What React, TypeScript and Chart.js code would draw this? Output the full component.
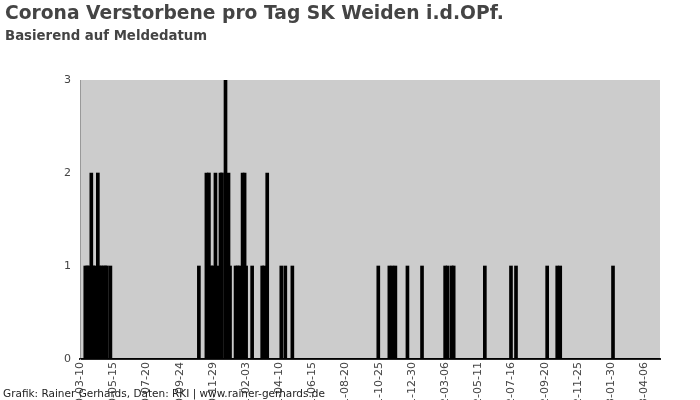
import React, { useEffect, useRef } from 'react';
import { Chart, registerables } from 'chart.js';

Chart.register(...registerables);

const titleText = 'Corona Verstorbene pro Tag SK Weiden i.d.OPf.';
const subtitleText = 'Basierend auf Meldedatum';
const footerText = 'Grafik: Rainer Gerhards, Daten: RKI | www.rainer-gerhards.de';

const startDate = '2020-03-10';
const endDate = '2023-05-07';
const labelStepDays = 66;
const yTicks = [0, 1, 2, 3];

const deathDates = [
  '2020-03-20', '2020-03-24', '2020-03-27', '2020-04-01', '2020-04-05', '2020-04-08',
  '2020-04-14', '2020-04-17', '2020-04-21', '2020-04-25', '2020-04-29', '2020-05-02',
  '2020-05-09',
  '2020-11-01', '2020-11-16', '2020-11-21', '2020-11-26', '2020-11-29', '2020-12-04',
  '2020-12-09', '2020-12-14', '2020-12-17', '2020-12-24', '2020-12-30', '2021-01-02',
  '2021-01-13', '2021-01-17', '2021-01-21', '2021-01-27', '2021-01-31', '2021-02-03',
  '2021-02-15', '2021-03-07', '2021-03-11', '2021-03-17', '2021-04-14', '2021-04-22',
  '2021-05-06',
  '2021-10-24', '2021-11-15', '2021-11-21', '2021-11-27', '2021-12-21', '2022-01-19',
  '2022-03-06', '2022-03-11', '2022-03-19', '2022-03-23', '2022-05-24', '2022-07-15',
  '2022-07-25', '2022-09-25', '2022-10-15', '2022-10-21', '2023-02-03',
];
const deathCounts = [
  1, 1, 1, 2, 1, 1,
  2, 1, 1, 1, 1, 1,
  1,
  1, 2, 2, 1, 1, 2,
  1, 2, 2, 3, 2, 1,
  1, 1, 1, 2, 2, 1,
  1, 1, 1, 2, 1, 1,
  1,
  1, 1, 1, 1, 1, 1,
  1, 1, 1, 1, 1, 1,
  1, 1, 1, 1, 1,
];

function buildDays(): string[] {
  const out: string[] = [];
  const d = new Date(startDate + 'T00:00:00Z');
  const end = new Date(endDate + 'T00:00:00Z');
  while (d.getTime() <= end.getTime()) {
    out.push(d.toISOString().slice(0, 10));
    d.setUTCDate(d.getUTCDate() + 1);
  }
  return out;
}

export default function App() {
  const ref = useRef<HTMLCanvasElement | null>(null);

  useEffect(() => {
    document.body.style.margin = '0';
    const canvas = ref.current;
    if (!canvas) return;
    const labels = buildDays();
    const lookup = new Map<string, number>();
    deathDates.forEach((dt, i) => lookup.set(dt, deathCounts[i]));
    const values = labels.map((l) => lookup.get(l) ?? 0);

    const decor = {
      id: 'decor',
      beforeDraw(chart: any) {
        const { ctx, chartArea } = chart;
        ctx.save();
        ctx.fillStyle = '#ffffff';
        ctx.fillRect(0, 0, chart.width, chart.height);
        ctx.fillStyle = '#cccccc';
        ctx.fillRect(chartArea.left, chartArea.top, chartArea.right - chartArea.left, chartArea.bottom - chartArea.top);
        ctx.restore();
      },
      afterDraw(chart: any) {
        const { ctx } = chart;
        ctx.save();
        ctx.textBaseline = 'alphabetic';
        ctx.textAlign = 'left';
        ctx.fillStyle = '#444444';
        ctx.font = 'bold 18.7px "DejaVu Sans"';
        ctx.fillText(titleText, 5, 19);
        ctx.font = 'bold 13.3px "DejaVu Sans"';
        ctx.fillText(subtitleText, 5, 40);
        ctx.fillStyle = '#222222';
        ctx.font = '10.5px "DejaVu Sans"';
        ctx.fillText(footerText, 3, 397);
        ctx.restore();
      },
    };

    const chart = new Chart(canvas, {
      type: 'bar',
      data: {
        labels,
        datasets: [
          {
            data: values,
            backgroundColor: '#000000',
            borderWidth: 0,
            barThickness: 3,
          },
        ],
      },
      options: {
        animation: false,
        responsive: false,
        maintainAspectRatio: false,
        layout: { padding: { top: 80, left: 0, right: 40, bottom: 0 } },
        plugins: {
          legend: { display: false },
          tooltip: { enabled: false },
          title: { display: false },
        },
        scales: {
          x: {
            grid: { display: false, drawTicks: false },
            border: { display: true, color: '#222222', width: 2 },
            ticks: {
              autoSkip: false,
              minRotation: 90,
              maxRotation: 90,
              padding: 3,
              color: '#444444',
              font: { size: 11, family: 'DejaVu Sans' },
              callback: function (this: any, v: any, i: number) {
                return i % labelStepDays === 0 ? this.getLabelForValue(v) : null;
              },
            },
            afterFit: (s: any) => {
              s.height = 81;
            },
          },
          y: {
            min: yTicks[0],
            max: yTicks[yTicks.length - 1],
            grid: { display: false, drawTicks: false },
            border: { display: true, color: '#999999', width: 1 },
            ticks: {
              stepSize: 1,
              padding: 9,
              color: '#444444',
              font: { size: 11, family: 'DejaVu Sans' },
            },
            afterFit: (s: any) => {
              s.width = 80;
            },
          },
        },
      },
      plugins: [decor],
    });
    return () => chart.destroy();
  }, []);

  return (
    <div style={{ width: 700, height: 400, overflow: 'hidden', position: 'relative' }}>
      <canvas ref={ref} width={700} height={440} style={{ display: 'block' }} />
    </div>
  );
}
